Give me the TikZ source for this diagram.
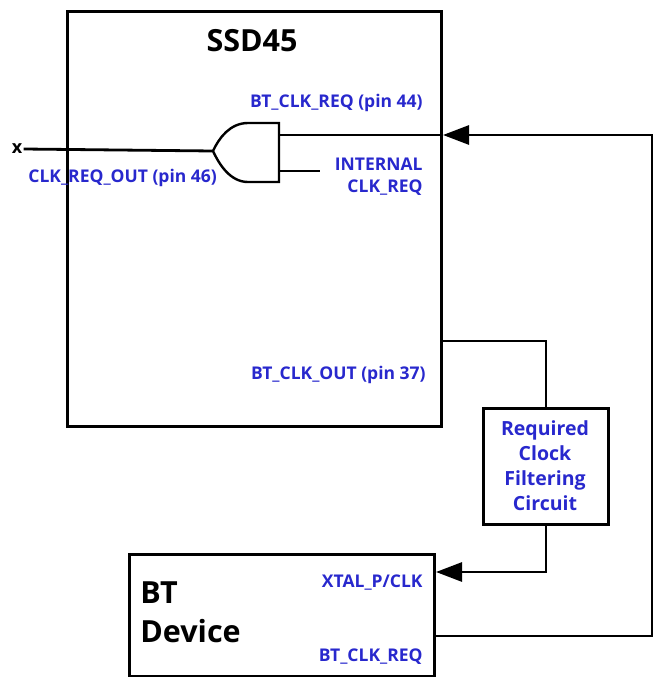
\documentclass[tikz,border=0pt]{standalone}
\usepackage{fontspec}
\setmainfont{Open Sans}
\usetikzlibrary{arrows.meta}
\definecolor{lblue}{RGB}{40,40,205}
\begin{document}
\begin{tikzpicture}[x=1pt,y=-1pt,line width=2.8pt,
  box/.style={draw,line width=3pt,inner sep=0pt,anchor=north west},
  sig/.style={text=lblue,inner sep=0pt,font=\bfseries\fontsize{17.5}{22}\selectfont},
  title/.style={inner sep=0pt,font=\bfseries\fontsize{30.5}{39}\selectfont},
  arr/.style={-{Triangle[length=26pt,width=19pt]}}]
\useasboundingbox (0,0) rectangle (653,677);
% boxes
\node[box,minimum width=374pt,minimum height=415pt] (ssd) at (66,10) {};
\node[box,minimum width=125pt,minimum height=116pt] (filter) at (482,407) {};
\node[box,minimum width=305pt,minimum height=122pt] (bt) at (128,553) {};
% titles
\node[title,anchor=center] (ssdt) at (252,41) {SSD45};
\node[title,anchor=base west,align=left] (btt) at (139,642) {BT\\Device};
\node[sig,font=\bfseries\fontsize{19.5}{25}\selectfont,align=center,anchor=center] (filtt) at (545,466) {Required\\Clock\\Filtering\\Circuit};
% signal labels
\node[sig,anchor=east] (l44) at (424,103) {BT\_CLK\_REQ (pin 44)};
\node[sig,anchor=east,align=right] (lint) at (424,177) {INTERNAL\\CLK\_REQ};
\node[sig,anchor=west] (l46) at (27,178) {CLK\_REQ\_OUT (pin 46)};
\node[sig,anchor=east] (l37) at (427,375) {BT\_CLK\_OUT (pin 37)};
\node[sig,anchor=east] (lxtal) at (424,583) {XTAL\_P/CLK};
\node[sig,anchor=east] (lbreq) at (424,657) {BT\_CLK\_REQ};
\node[inner sep=0pt,font=\bfseries\fontsize{18}{18}\selectfont,anchor=center] (xl) at (17,149) {x};
% gate
\draw[line width=2.4pt] (279,123) -- (248,123) .. controls (230,123) and (219,138) .. (213,151)
  .. controls (219,164) and (230,182) .. (248,182) -- (279,182) -- cycle;
\coordinate (gout) at (213,151);
\coordinate (gin1) at (279,135);
\coordinate (gin2) at (279,171);
\coordinate (in2end) at (320,171);
\coordinate (righttop) at (652,135);
\coordinate (rightbot) at (652,636);
\coordinate (clkout) at (440,341);
\coordinate (xtal) at (440,572);
% connectors
\draw (gout) -- (xl.east);
\draw (gin1) -- (ssd.east |- gin1);
\draw (gin2) -- (in2end);
\draw[arr] (bt.east |- rightbot) -- (rightbot) -- (righttop) -- (ssd.east |- righttop);
\draw (ssd.east |- clkout) -| (filter.north);
\draw[arr] (filter.south) |- (bt.east |- xtal);
\end{tikzpicture}
\end{document}
